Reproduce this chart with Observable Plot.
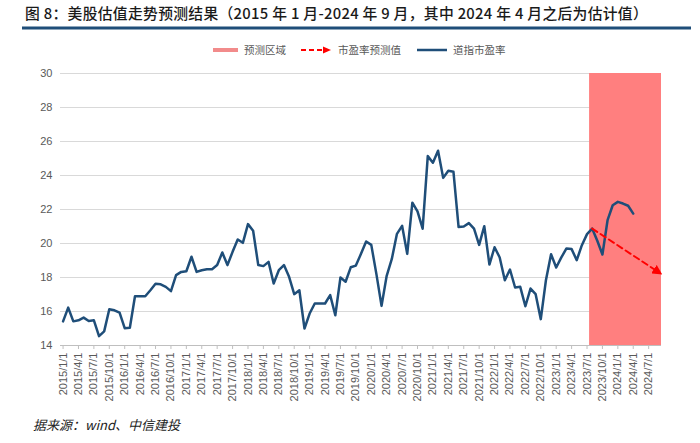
<!DOCTYPE html>
<html><head><meta charset="utf-8">
<script src="https://cdn.jsdelivr.net/npm/d3@7"></script>
<script src="https://cdn.jsdelivr.net/npm/@observablehq/plot@0.6"></script>
<style>
body{margin:0;background:#fff;}
#wrap{position:relative;width:700px;height:443px;overflow:hidden;font-family:"Noto Sans CJK SC","Noto Sans",sans-serif;background:#fff;}
#title{position:absolute;left:25px;top:3px;font-size:14.8px;line-height:20px;color:#1a1a1a;white-space:nowrap;font-weight:500;letter-spacing:0.3px;}
#legend{position:absolute;top:42px;left:211px;font-size:10.5px;line-height:16px;color:#595959;display:flex;align-items:center;white-space:nowrap;}
#legend svg{display:block;margin-right:4px;}
#legend .item{display:flex;align-items:center;margin-right:15px;}
#chart{position:absolute;left:0;top:0;}
#caption{position:absolute;left:33px;top:416px;font-size:13px;line-height:18px;font-style:italic;color:#222;}
</style></head>
<body><div id="wrap">
<div id="chart"></div>
<div id="title">图 8：美股估值走势预测结果（2015 年 1 月-2024 年 9 月，其中 2024 年 4 月之后为估计值）</div>
<div id="legend">
  <div class="item"><svg width="29" height="10"><rect x="2" y="3" width="25" height="4" fill="#f28b8b"/></svg><span>预测区域</span></div>
  <div class="item"><svg width="33" height="10"><line x1="0" y1="5" x2="24" y2="5" stroke="#ff0000" stroke-width="2" stroke-dasharray="5,3"/><path d="M22,1.5 L30,5 L22,8.5 Z" fill="#ff0000"/></svg><span>市盈率预测值</span></div>
  <div class="item"><svg width="33" height="10"><line x1="1" y1="5" x2="31" y2="5" stroke="#1f4e79" stroke-width="2.5"/></svg><span>道指市盈率</span></div>
</div>
<div id="caption">据来源：wind、中信建投</div>
</div>
<script>
// Categories: monthly, 2015/1 .. 2024/9
const firstYear = 2015;
const monthCount = 117;
const monthLabels = [];
for (let i = 0; i < monthCount; i++) {
  monthLabels.push(`${firstYear + Math.floor(i / 12)}/${(i % 12) + 1}/1`);
}
// Tick labels: every third month
const tickLabels = monthLabels.filter((d, i) => i % 3 === 0);

// 道指市盈率, monthly from 2015/1 to 2024/4
const peValues = [
  15.42, 16.23, 15.42, 15.48, 15.64, 15.44, 15.48, 14.55, 14.83, 16.13, 16.07, 15.93,
  15.02, 15.04, 16.90, 16.90, 16.90, 17.25, 17.63, 17.60, 17.45, 17.20, 18.14, 18.33,
  18.37, 19.22, 18.33, 18.43, 18.49, 18.49, 18.73, 19.47, 18.73, 19.51, 20.24, 20.04,
  21.14, 20.75, 18.73, 18.67, 18.92, 17.65, 18.43, 18.73, 18.04, 17.02, 17.25, 15.00,
  15.88, 16.47, 16.47, 16.47, 16.96, 15.78, 18.00, 17.75, 18.60, 18.70, 19.39, 20.12,
  19.92, 18.20, 16.33, 18.10, 19.09, 20.57, 21.04, 19.39, 22.40, 21.89, 20.87, 25.14,
  24.75, 25.46, 23.86, 24.28, 24.22, 20.97, 21.00, 21.20, 20.87, 19.92, 21.02, 18.76,
  19.78, 19.18, 17.84, 18.47, 17.41, 17.45, 16.31, 17.35, 17.02, 15.55, 17.84, 19.37,
  18.59, 19.18, 19.71, 19.67, 19.02, 19.90, 20.55, 20.88, 20.16, 19.35, 21.37, 22.25,
  22.45, 22.35, 22.22, 21.76
];

// 市盈率预测值 (start and end of the dashed arrow)
const forecastLabels = ["2023/8/1", "2024/9/1"];
const forecastValues = [20.88, 18.3];

// 预测区域 (first and last month covered)
const regionLabels = ["2023/8/1", "2024/9/1"];

const yTicks = [14, 16, 18, 20, 22, 24, 26, 28, 30];

const blueData = peValues.map((v, i) => ({i, v}));
const fcData = forecastLabels.map((l, k) => ({i: monthLabels.indexOf(l), v: forecastValues[k]}));
const regionData = [{a: monthLabels.indexOf(regionLabels[0]) - 0.5, b: monthLabels.indexOf(regionLabels[1]) + 0.5}];
const tickIdx = tickLabels.map(l => monthLabels.indexOf(l));

const chart = Plot.plot({
  width: 700, height: 443,
  marginLeft: 60, marginRight: 39, marginTop: 73, marginBottom: 98,
  style: {fontFamily: "'Liberation Sans', Arial, sans-serif", fontSize: "11px", color: "#595959", background: "transparent", overflow: "visible"},
  x: {type: "linear", domain: [-0.5, monthCount - 0.5], label: null},
  y: {domain: [14, 30], label: null},
  marks: [
    // heading rule under the title
    Plot.frame({anchor: "top", dy: -45.5, insetLeft: -37, insetRight: -28, stroke: "#1f4e79", strokeWidth: 3, strokeOpacity: 1}),
    Plot.gridY(yTicks, {stroke: "#d9d9d9", strokeOpacity: 1, strokeWidth: 1}),
    Plot.rect(regionData, {x1: "a", x2: "b", y1: 14, y2: 30, fill: "#ff7f7f"}),
    Plot.ruleY([14], {stroke: "#bfbfbf"}),
    Plot.axisY(yTicks, {tickSize: 0, tickPadding: 8, label: null}),
    Plot.axisX(tickIdx, {tickFormat: i => monthLabels[i], tickRotate: -90, tickSize: 4, tickPadding: 3, stroke: "#bfbfbf", label: null}),
    Plot.line(blueData, {x: "i", y: "v", stroke: "#1f4e79", strokeWidth: 2.5, strokeLinejoin: "round"}),
    Plot.line(fcData, {x: "i", y: "v", stroke: "#ff0000", strokeWidth: 2, strokeDasharray: "6,4"})
  ]
});
document.getElementById("chart").appendChild(chart);

const svg = d3.select(chart);
// filled arrowhead on the forecast line
const defs = svg.insert("defs", ":first-child");
defs.append("marker").attr("id", "fcArrow").attr("viewBox", "0 0 10 10")
  .attr("refX", 6).attr("refY", 5).attr("markerWidth", 5).attr("markerHeight", 5)
  .attr("orient", "auto").attr("markerUnits", "strokeWidth")
  .append("path").attr("d", "M0,0 L10,5 L0,10 Z").attr("fill", "#ff0000").attr("stroke", "none");
svg.selectAll("g[stroke='#ff0000'] path").attr("marker-end", "url(#fcArrow)");
</script>
</body></html>
